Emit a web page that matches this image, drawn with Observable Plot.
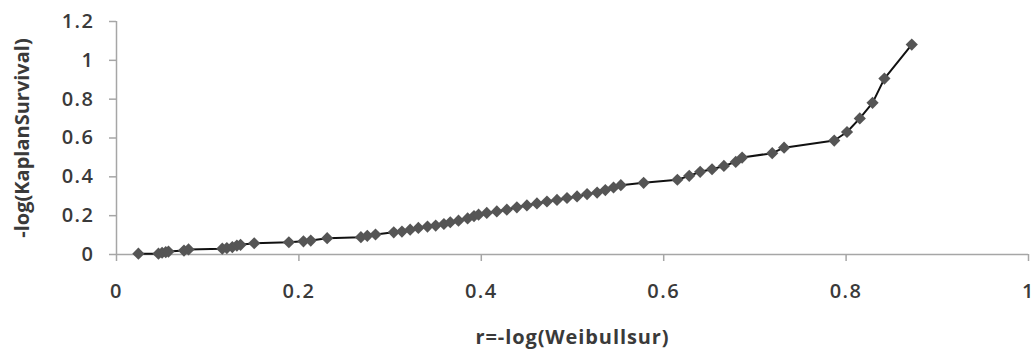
<!DOCTYPE html>
<html>
<head>
<meta charset="utf-8">
<script src="https://cdn.jsdelivr.net/npm/d3@7"></script>
<script src="https://cdn.jsdelivr.net/npm/@observablehq/plot@0.6"></script>
<style>
  html, body { margin: 0; padding: 0; background: #fff; }
  #chart svg { display: block; }
  #chart svg text { letter-spacing: 1.5px; }
</style>
</head>
<body>
<div id="chart"></div>
<script>
const xTitle = "r=-log(Weibullsur)";
const yTitle = "-log(KaplanSurvival)";
const xTicks = [0, 0.2, 0.4, 0.6, 0.8, 1];
const yTicks = [0, 0.2, 0.4, 0.6, 0.8, 1, 1.2];

const rValues = [0.024, 0.046, 0.050, 0.054, 0.057, 0.074, 0.079, 0.116, 0.121, 0.127, 0.132, 0.136,
  0.151, 0.189, 0.205, 0.213, 0.231, 0.268, 0.275, 0.284, 0.304, 0.313, 0.322, 0.331, 0.341,
  0.350, 0.359, 0.366, 0.375, 0.385, 0.392, 0.397, 0.406, 0.417, 0.428, 0.439, 0.450, 0.461,
  0.472, 0.483, 0.494, 0.505, 0.516, 0.527, 0.536, 0.545, 0.553, 0.578, 0.615, 0.628, 0.640,
  0.653, 0.666, 0.679, 0.686, 0.719, 0.732, 0.787, 0.801, 0.815, 0.829, 0.842, 0.872];
const kaplanValues = [0.004, 0.004, 0.009, 0.012, 0.015, 0.020, 0.026, 0.030, 0.033, 0.038, 0.046, 0.050,
  0.058, 0.063, 0.068, 0.072, 0.084, 0.089, 0.096, 0.103, 0.114, 0.118, 0.128, 0.137, 0.144,
  0.149, 0.157, 0.166, 0.174, 0.186, 0.198, 0.205, 0.214, 0.222, 0.231, 0.243, 0.253, 0.263,
  0.273, 0.281, 0.291, 0.299, 0.311, 0.319, 0.332, 0.345, 0.357, 0.369, 0.385, 0.405, 0.426,
  0.439, 0.456, 0.477, 0.499, 0.522, 0.550, 0.587, 0.631, 0.701, 0.781, 0.906, 1.081];

const data = rValues.map((r, i) => ({r, k: kaplanValues[i]}));

const axisGray = "#a6a6a6";
const textColor = "#3a3a3a";

const chart = Plot.plot({
  width: 1036,
  height: 355,
  marginLeft: 116,
  marginRight: 8,
  marginTop: 21,
  marginBottom: 101,
  style: {fontFamily: "'Open Sans', sans-serif", background: "#fff"},
  x: {domain: [0, 1]},
  y: {domain: [0, 1.2]},
  marks: [
    Plot.ruleX([0], {stroke: axisGray, strokeWidth: 1.5}),
    Plot.ruleY([0], {stroke: axisGray, strokeWidth: 1.5}),
    Plot.axisX({ticks: xTicks, tickSize: 7, stroke: axisGray, strokeWidth: 1.5, tickFormat: () => "", label: null}),
    Plot.axisY({ticks: yTicks, tickSize: 7, stroke: axisGray, strokeWidth: 1.5, tickFormat: () => "", label: null}),
    Plot.axisX({ticks: xTicks, tickSize: 0, tickPadding: 29, fill: textColor, fontSize: 20, fontWeight: 600, label: null, tickFormat: d => String(d)}),
    Plot.axisY({ticks: yTicks, tickSize: 0, tickPadding: 22, fill: textColor, fontSize: 20, fontWeight: 600, label: null, tickFormat: d => String(d)}),
    Plot.line(data, {x: "r", y: "k", stroke: "#111", strokeWidth: 2}),
    Plot.dot(data, {x: "r", y: "k", symbol: "diamond2", r: 5.5, fill: "#555", stroke: "none"}),
    Plot.text([xTitle], {frameAnchor: "bottom", dy: 83, lineAnchor: "middle", fontSize: 20, fontWeight: "bold", fill: textColor}),
    Plot.text([yTitle], {frameAnchor: "left", dx: -94, rotate: -90, lineAnchor: "middle", textAnchor: "middle", fontSize: 20, fontWeight: "bold", fill: textColor})
  ]
});
d3.select(chart).selectAll("text").each(function() {
  const t = this.textContent;
  if (t === xTitle) this.style.letterSpacing = "0.9px";
  if (t === yTitle) this.style.letterSpacing = "0px";
});
document.getElementById("chart").appendChild(chart);
</script>
</body>
</html>
